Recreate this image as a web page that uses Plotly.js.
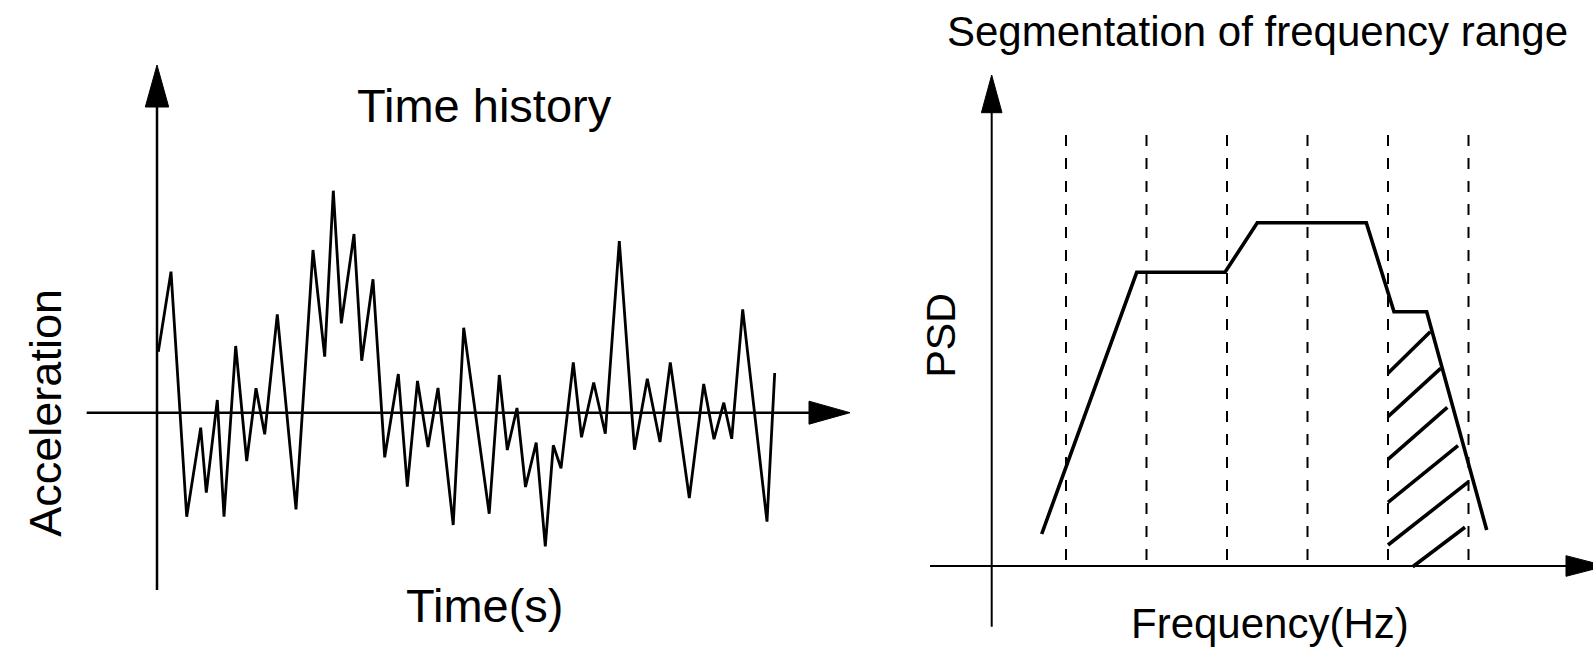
<!DOCTYPE html>
<html>
<head>
<meta charset="utf-8">
<script src="https://cdn.plot.ly/plotly-3.0.1.min.js"></script>
<style>html,body{margin:0;padding:0;background:#fff;}#chart{width:1593px;height:648px;}</style>
</head>
<body>
<div id="chart"></div>
<script>
// ---- Time history (left panel) ----
const timeS = [0.013,0.14,0.297,0.437,0.493,0.603,0.67,0.787,0.897,0.99,1.077,1.203,1.39,1.56,1.677,1.763,1.843,1.97,2.047,2.16,2.277,2.413,2.503,2.605,2.71,2.81,2.962,3.067,3.322,3.423,3.503,3.6,3.685,3.792,3.883,3.963,4.04,4.163,4.245,4.367,4.483,4.623,4.775,4.903,5.03,5.133,5.323,5.467,5.57,5.668,5.747,5.857,6.1,6.177];
const accel = [0.61,1.41,-1.04,-0.15,-0.80,0.127,-1.04,0.667,-0.483,0.244,-0.216,0.984,-0.966,1.627,0.56,2.22,0.894,1.787,0.52,1.334,-0.446,0.387,-0.74,0.317,-0.343,0.247,-1.123,0.85,-1.01,0.377,-0.373,0.047,-0.743,-0.30,-1.338,-0.326,-0.556,0.502,-0.246,0.302,-0.21,1.717,-0.37,0.339,-0.293,0.502,-0.853,0.287,-0.265,0.10,-0.261,1.034,-1.09,0.397];

// ---- PSD (right panel) ----
const freq = [0.5,1.45,2.333,2.656,3.746,4.023,4.35,4.95];
const psd  = [0.32,2.937,2.937,3.433,3.433,2.543,2.543,0.36];
const segBounds = [0.743,1.548,2.353,3.158,3.963,4.768];
const segTop = 4.31;
// hatch strokes of the highlighted segment
const hatchF0 = [3.963,3.963,3.963,3.963,3.963,4.21];
const hatchP0 = [1.927,1.493,1.067,0.637,0.21,-0.007];
const hatchF1 = [4.386,4.49,4.556,4.663,4.77,4.733];
const hatchP1 = [2.343,1.977,1.587,1.203,0.843,0.387];

const FONT = '"Liberation Sans", Arial, Helvetica, sans-serif';

// build segment traces
const segX = [], segY = [];
segBounds.forEach(f => { segX.push(f, f, null); segY.push(segTop, 0, null); });
const hX = [], hY = [];
hatchF0.forEach((f, i) => { hX.push(f, hatchF1[i], null); hY.push(hatchP0[i], hatchP1[i], null); });

const traces = [
  {x: timeS, y: accel, xaxis: 'x', yaxis: 'y', mode: 'lines',
   line: {color: '#000', width: 2.8}, hoverinfo: 'skip', showlegend: false},
  {x: segX, y: segY, xaxis: 'x2', yaxis: 'y2', mode: 'lines',
   line: {color: '#000', width: 2, dash: '11px,12px'}, hoverinfo: 'skip', showlegend: false},
  {x: freq, y: psd, xaxis: 'x2', yaxis: 'y2', mode: 'lines',
   line: {color: '#000', width: 3.6}, hoverinfo: 'skip', showlegend: false},
  {x: hX, y: hY, xaxis: 'x2', yaxis: 'y2', mode: 'lines',
   line: {color: '#000', width: 3.6}, hoverinfo: 'skip', showlegend: false}
];

// axis decorations
function line(xr, yr, x0, y0, x1, y1, w) {
  return {type: 'line', xref: xr, yref: yr, x0, y0, x1, y1, line: {color: '#000', width: w}};
}
function tri(xr, yr, pts) {
  return {type: 'path', xref: xr, yref: yr,
    path: 'M' + pts.map(p => p[0] + ',' + p[1]).join(' L') + ' Z',
    fillcolor: '#000', line: {color: '#000', width: 1}};
}
const shapes = [
  // left axes
  line('x', 'y', 0, -1.773, 0, 3.1, 2.5),
  line('x', 'y', -0.703, 0, 6.55, 0, 2.5),
  tri('x', 'y', [[0, 3.477], [-0.117, 3.057], [0.117, 3.057]]),
  tri('x', 'y', [[6.93, 0], [6.52, 0.115], [6.52, -0.115]]),
  // right axes
  line('x2', 'y2', 0, -0.607, 0, 4.56, 2),
  line('x2', 'y2', -0.617, 0, 5.77, 0, 2),
  tri('x2', 'y2', [[0, 4.91], [-0.103, 4.533], [0.103, 4.533]]),
  tri('x2', 'y2', [[6.143, 0], [5.743, 0.103], [5.743, -0.103]])
];

function ann(xr, yr, x, y, text, size, angle) {
  return {xref: xr, yref: yr, x, y, text, showarrow: false, xanchor: 'center', yanchor: 'middle',
    textangle: angle || 0, font: {family: FONT, size, color: '#000'}};
}
const annotations = [
  ann('x', 'y', 3.275, 3.072, 'Time history', 47),
  ann('x', 'y', -1.11, 0.0, 'Acceleration', 45, -90),
  ann('x', 'y', 3.28, -1.928, 'Time(s)', 47),
  ann('x2', 'y2', 2.658, 5.345, 'Segmentation of frequency range', 42),
  ann('x2', 'y2', -0.517, 2.305, 'PSD', 41, -90),
  ann('x2', 'y2', 2.783, -0.575, 'Frequency(Hz)', 42)
];

const hidden = {visible: false, showgrid: false, zeroline: false, fixedrange: true};
const layout = {
  width: 1593, height: 648,
  margin: {l: 0, r: 0, t: 0, b: 0, pad: 0},
  paper_bgcolor: '#fff', plot_bgcolor: '#fff',
  showlegend: false,
  xaxis: Object.assign({domain: [0, 1], range: [-1.57, 14.36]}, hidden),
  yaxis: Object.assign({domain: [0, 1], range: [-2.353, 4.127]}, hidden),
  xaxis2: Object.assign({domain: [0, 1], range: [-9.917, 6.013], overlaying: 'x'}, hidden),
  yaxis2: Object.assign({domain: [0, 1], range: [-0.82, 5.66], overlaying: 'y'}, hidden),
  shapes, annotations
};

Plotly.newPlot('chart', traces, layout, {displayModeBar: false, staticPlot: true});
</script>
</body>
</html>
